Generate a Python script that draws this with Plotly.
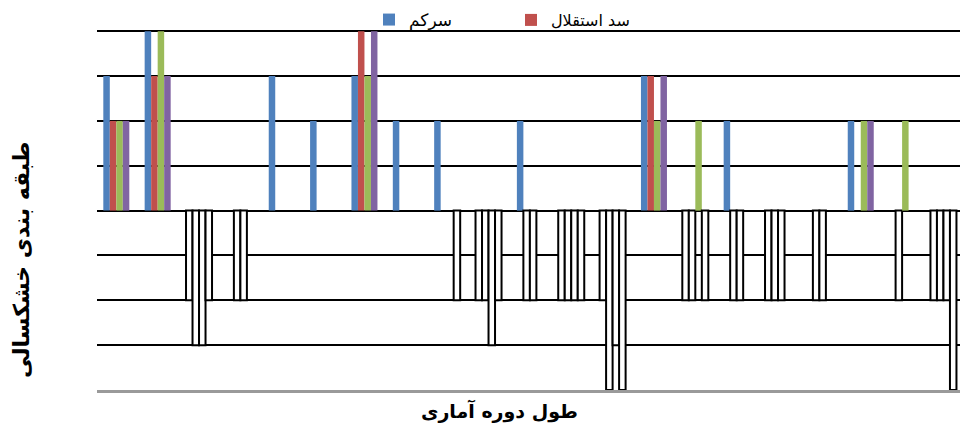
import plotly.graph_objects as go

# ---------------- data ----------------
periods = list(range(1, 22))
sarkam = [3, 4, -2, 0, 3, 2, 3, 2, 2, -2, 2, -2, -2, 3, -2, 2, -2, 0, 2, 0, -2]
esteghlal = [2, 3, -3, -2, 0, 0, 4, 0, 0, -2, -2, -2, -4, 3, -2, -2, -2, -2, 0, -2, -2]
series3 = [2, 4, -3, -2, 0, 0, 3, 0, 0, -3, -2, -2, -3, 2, 2, -2, -2, -2, 2, 2, -2]
series4 = [2, 3, -2, 0, 0, 0, 4, 0, -2, -2, 0, -2, -4, 3, -2, 0, 0, 0, 2, 0, -4]

series_names = ["سرکم", "سد استقلال", "سری ۳", "سری ۴"]
series_values = [sarkam, esteghlal, series3, series4]
series_colors = ["#4F81BD", "#C0504D", "#9BBB59", "#8064A2"]
legend_ids = ["legend", "legend2", None, None]

y_title = "طبقه بندی خشکسالی"
x_title = "طول دوره آماری"

# ---------------- figure ----------------
fig = go.Figure()
for name, vals, col, lg in zip(series_names, series_values, series_colors, legend_ids):
    fills = [col if v > 0 else ("white" if v < 0 else "rgba(0,0,0,0)") for v in vals]
    lines = [col if v > 0 else ("black" if v < 0 else "rgba(0,0,0,0)") for v in vals]
    widths = [0 if v > 0 else (2 if v < 0 else 0) for v in vals]
    kw = dict(showlegend=False)
    if lg is not None:
        kw = dict(showlegend=True, legend=lg)
    fig.add_trace(go.Bar(
        x=periods, y=vals, name=name,
        marker=dict(color=fills, line=dict(color=lines, width=widths)),
        **kw,
    ))

fig.update_layout(
    width=960, height=430,
    margin=dict(l=97, r=0, t=29, b=40),
    barmode="group", bargap=0.371, bargroupgap=0,
    plot_bgcolor="white", paper_bgcolor="white",
    font=dict(family="DejaVu Sans", color="black"),
    legend=dict(orientation="h", x=0.3152, xanchor="left", y=1.0249, yanchor="middle",
                font=dict(size=17, color="black"), bgcolor="rgba(0,0,0,0)"),
    legend2=dict(orientation="h", x=0.4797, xanchor="left", y=1.0249, yanchor="middle",
                 font=dict(size=16, color="black"), bgcolor="rgba(0,0,0,0)"),
)
fig.update_xaxes(range=[0.533, 21.40], showticklabels=False, showgrid=False, zeroline=False,
                 showline=True, linecolor="#9a9a9a", linewidth=3, ticks="")
fig.update_yaxes(range=[-4, 4.05], tickvals=[-3, -2, -1, 1, 2, 3, 4], showticklabels=False,
                 showgrid=True, gridcolor="black", gridwidth=2,
                 zeroline=True, zerolinecolor="black", zerolinewidth=2, showline=False, ticks="")

fig.add_annotation(text=y_title, xref="paper", yref="paper", x=(21 - 97) / 863, y=(390 - 260) / 361,
                   textangle=-90, showarrow=False, xanchor="center", yanchor="middle",
                   font=dict(size=22, weight="bold", color="black"))
fig.add_annotation(text=x_title, xref="paper", yref="paper", x=(499 - 97) / 863, y=(390 - 411) / 361,
                   showarrow=False, xanchor="center", yanchor="middle",
                   font=dict(size=19, weight="bold", color="black"))

fig.write_html("out.html")
